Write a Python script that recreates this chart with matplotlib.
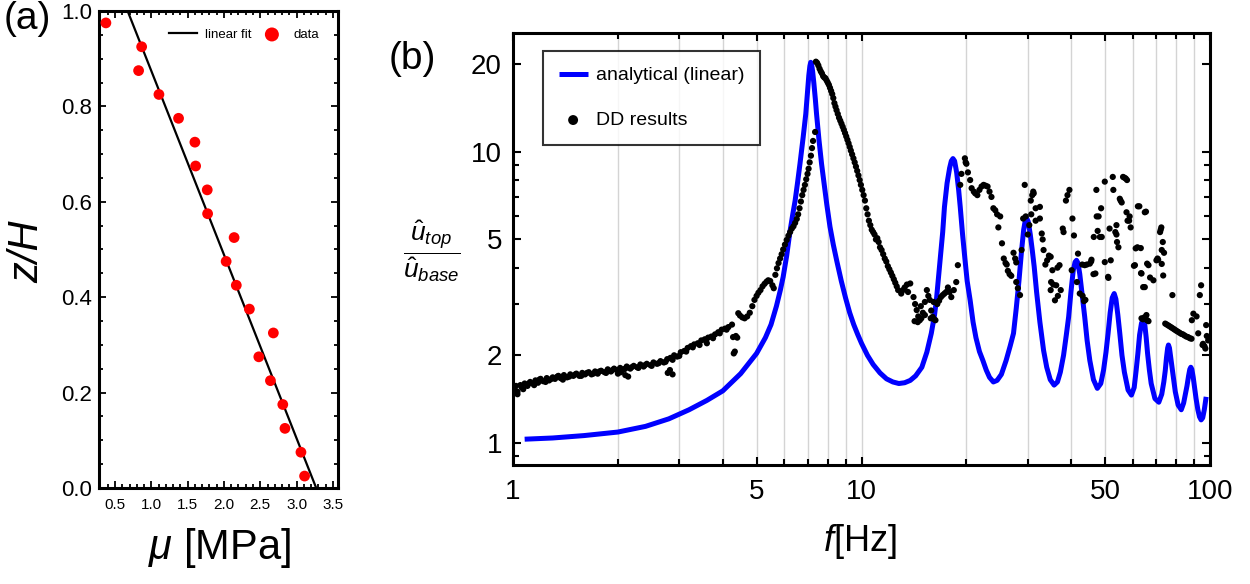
"""Two-panel figure: shear modulus profile (a) and transfer function (b)."""

import matplotlib

matplotlib.use("Agg")
import matplotlib.pyplot as plt
from matplotlib.ticker import FixedLocator, FixedFormatter, NullFormatter

plt.rcParams["font.family"] = ["Liberation Sans", "DejaVu Sans"]
plt.rcParams["mathtext.fontset"] = "custom"
plt.rcParams["mathtext.rm"] = "Liberation Sans"
plt.rcParams["mathtext.it"] = "Liberation Sans:italic"

# ---- panel (a): mu vs z/H ----
mu_data = [0.375, 0.867, 0.825, 1.105, 1.375, 1.60, 1.61, 1.77, 1.775, 2.14,
           2.03, 2.17, 2.35, 2.68, 2.48, 2.64, 2.81, 2.84, 3.06, 3.11]
z_data = [0.975, 0.925, 0.875, 0.825, 0.775, 0.725, 0.675, 0.625, 0.575, 0.525,
          0.475, 0.425, 0.375, 0.325, 0.275, 0.225, 0.175, 0.125, 0.075, 0.025]
fit_mu = [0.674, 3.27]
fit_z = [1.0, 0.0]

# ---- panel (b): analytical transfer function (f, amplitude) ----
analytical = [
    (1.08, 1.03), (1.3, 1.04), (1.6, 1.06), (2.0, 1.09), (2.4, 1.14), (2.8, 1.21),
    (3.2, 1.30), (3.6, 1.40), (4.0, 1.51), (4.5, 1.73), (5.0, 2.03), (5.3, 2.3),
    (5.5, 2.55), (5.7, 2.95), (5.85, 3.35), (5.96, 3.72), (6.1, 4.4), (6.23, 5.3),
    (6.35, 6.1), (6.45, 6.8), (6.56, 7.9), (6.66, 9.1), (6.8, 11.2), (6.92, 13.5),
    (7.0, 16.0), (7.06, 18.3), (7.11, 19.7), (7.15, 20.3), (7.19, 20.0), (7.24, 18.9),
    (7.3, 17.2), (7.37, 15.2), (7.43, 13.5), (7.55, 11.0), (7.68, 9.1), (7.8, 7.9),
    (7.95, 6.6), (8.12, 5.53), (8.3, 4.8), (8.5, 4.2), (8.75, 3.6), (9.0, 3.15),
    (9.25, 2.8), (9.5, 2.55), (9.75, 2.36), (10.0, 2.2), (10.4, 2.0), (10.8, 1.86),
    (11.3, 1.74), (11.8, 1.66), (12.3, 1.62), (12.8, 1.60), (13.3, 1.61), (13.8, 1.64),
    (14.3, 1.70), (14.9, 1.82), (15.4, 2.05), (15.86, 2.38), (16.2, 2.75), (16.4, 3.09),
    (16.8, 4.2), (17.1, 5.3), (17.3, 6.47), (17.6, 7.8), (17.9, 8.8), (18.1, 9.3),
    (18.3, 9.48), (18.5, 9.3), (18.75, 8.5), (19.0, 7.4), (19.2, 6.47), (19.5, 5.2),
    (19.8, 4.3), (20.1, 3.6), (20.5, 3.09), (20.9, 2.6), (21.3, 2.3), (21.8, 2.06),
    (22.3, 1.92), (22.8, 1.78), (23.3, 1.68), (23.9, 1.62), (24.5, 1.64), (25.2, 1.72),
    (26.0, 1.92), (26.7, 2.15), (27.3, 2.38), (27.8, 2.9), (28.3, 3.6), (28.8, 4.59),
    (29.2, 5.4), (29.5, 5.8), (29.8, 5.9), (30.1, 5.75), (30.5, 5.2), (30.9, 4.6),
    (31.3, 4.03), (31.8, 3.3), (32.5, 2.6), (33.3, 2.08), (34.0, 1.82), (34.8, 1.65),
    (35.7, 1.58), (36.5, 1.62), (37.2, 1.75), (38.0, 2.0), (38.7, 2.35), (39.3, 2.71),
    (39.9, 3.3), (40.5, 3.9), (41.0, 4.18), (41.4, 4.24), (41.8, 4.15), (42.3, 3.8),
    (43.0, 3.2), (43.7, 2.71), (44.4, 2.25), (45.2, 1.92), (46.3, 1.65), (47.5, 1.54),
    (48.6, 1.6), (49.5, 1.78), (50.3, 2.05), (51.0, 2.38), (51.7, 2.8), (52.4, 3.15),
    (53.1, 3.26), (53.7, 3.12), (54.4, 2.75), (55.1, 2.38), (55.9, 2.0), (56.8, 1.75),
    (58.2, 1.52), (59.5, 1.46), (60.6, 1.55), (61.4, 1.78), (62.1, 2.03), (62.8, 2.35),
    (63.6, 2.58), (64.3, 2.64), (65.0, 2.55), (65.6, 2.3), (66.2, 2.03), (67.0, 1.78),
    (67.8, 1.6), (69.5, 1.42), (71.3, 1.38), (72.7, 1.47), (73.7, 1.62), (74.4, 1.77),
    (75.0, 1.96), (75.6, 2.12), (76.0, 2.17), (76.5, 2.12), (77.2, 1.95), (78.3, 1.72),
    (79.5, 1.5), (81.0, 1.35), (82.7, 1.30), (84.0, 1.37), (85.0, 1.47), (85.9, 1.57),
    (86.8, 1.70), (87.5, 1.79), (88.1, 1.82), (88.7, 1.79), (89.5, 1.68), (90.2, 1.57),
    (91.2, 1.42), (92.3, 1.30), (93.3, 1.23), (94.3, 1.20), (95.3, 1.22), (96.3, 1.30),
    (97.5, 1.44),
]

# ---- panel (b): DD results, split by frequency band ----
dd_low = [
    (1.00, 1.52), (1.01, 1.55), (1.03, 1.50), (1.05, 1.58), (1.06, 1.55), (1.08, 1.60),
    (1.10, 1.57), (1.12, 1.62), (1.14, 1.60), (1.16, 1.64), (1.18, 1.61), (1.20, 1.66),
    (1.22, 1.63), (1.25, 1.67), (1.27, 1.64), (1.30, 1.68), (1.32, 1.66), (1.35, 1.70),
    (1.37, 1.67), (1.40, 1.71), (1.43, 1.68), (1.46, 1.72), (1.49, 1.70), (1.52, 1.73),
    (1.55, 1.70), (1.58, 1.74), (1.61, 1.72), (1.65, 1.75), (1.68, 1.72), (1.72, 1.76),
    (1.75, 1.73), (1.79, 1.77), (1.83, 1.75), (1.87, 1.79), (1.91, 1.76), (1.95, 1.80),
    (1.99, 1.78), (2.03, 1.81), (2.08, 1.79), (2.12, 1.83), (2.17, 1.80), (2.22, 1.84),
    (2.27, 1.82), (2.32, 1.86), (2.37, 1.83), (2.42, 1.87), (2.48, 1.85), (2.53, 1.89),
    (2.59, 1.87), (2.65, 1.91), (2.71, 1.89), (2.77, 1.94), (2.83, 1.96), (2.90, 2.00),
    (2.96, 1.98), (3.03, 2.05), (3.10, 2.07), (3.17, 2.12), (3.24, 2.15), (3.31, 2.18),
    (3.39, 2.20), (3.47, 2.25), (3.55, 2.27), (3.63, 2.30), (3.71, 2.32), (3.80, 2.36),
    (3.88, 2.40), (3.97, 2.45), (4.06, 2.47), (4.15, 2.50), (4.25, 2.55),
    (1.02, 1.57), (1.07, 1.53), (1.11, 1.60), (1.15, 1.58), (1.19, 1.65), (1.24, 1.62),
    (1.29, 1.66), (1.34, 1.69), (1.39, 1.65), (1.45, 1.69), (1.51, 1.72), (1.57, 1.70),
    (1.63, 1.74), (1.70, 1.73), (1.77, 1.76), (1.85, 1.74), (1.93, 1.78), (2.01, 1.77),
    (2.10, 1.80), (2.19, 1.82), (2.29, 1.81), (2.39, 1.85), (2.50, 1.84), (2.62, 1.88),
    (2.74, 1.90), (2.87, 1.93), (3.00, 1.99), (3.14, 2.06), (3.28, 2.13), (3.43, 2.17),
    (3.58, 2.24), (3.75, 2.29), (3.92, 2.38), (4.10, 2.45),
    (1.03, 1.47), (2.00, 1.73), (2.04, 1.75), (2.10, 1.71), (2.14, 1.69), (2.78, 1.74),
    (2.82, 1.78), (2.87, 1.72), (3.60, 2.20), (4.30, 2.03), (4.33, 2.06), (4.28, 2.31),
    (4.36, 2.33), (4.40, 2.30),
]
dd_rise = [
    (4.43, 2.79), (4.48, 2.74), (4.55, 2.70), (4.62, 2.68), (4.70, 2.72), (4.78, 2.80),
    (4.86, 2.95), (4.93, 3.10), (5.00, 3.20), (5.06, 3.28), (5.13, 3.35), (5.20, 3.45),
    (5.27, 3.52), (5.34, 3.58), (5.40, 3.62), (5.47, 3.60), (5.55, 3.48), (5.60, 3.40),
    (5.66, 3.78), (5.72, 3.98), (5.78, 4.15), (5.84, 4.30), (5.90, 4.45), (5.96, 4.62),
    (6.03, 4.80), (6.10, 4.98), (6.17, 5.15), (6.24, 5.30), (6.31, 5.45), (6.38, 5.55),
    (6.45, 5.70), (6.52, 5.88), (6.58, 6.10), (6.64, 6.40), (6.70, 6.75), (6.76, 7.10),
    (6.82, 7.40), (6.88, 7.70), (6.94, 8.05), (7.00, 8.40), (7.05, 8.75), (7.10, 9.20),
    (7.16, 9.70), (7.21, 10.3), (7.26, 10.9), (7.36, 11.7),
]
dd_peak = [
    (7.40, 20.4), (7.46, 20.2), (7.52, 19.8), (7.58, 19.3), (7.64, 18.9), (7.70, 18.6),
    (7.76, 18.2), (7.82, 18.0), (7.88, 17.9), (7.94, 17.6), (8.00, 17.3), (8.06, 17.0),
    (8.12, 16.6), (8.18, 16.2), (8.24, 15.8), (8.30, 15.3), (8.36, 14.7), (8.42, 14.3),
    (8.48, 13.9), (8.55, 13.5), (8.62, 13.1), (8.69, 12.8), (8.76, 12.5), (8.83, 12.2),
    (8.90, 11.9), (8.97, 11.6), (9.04, 11.3), (9.11, 11.0), (9.18, 10.7), (9.25, 10.4),
    (9.32, 10.1), (9.40, 9.8), (9.48, 9.5), (9.56, 9.2), (9.64, 8.9), (9.72, 8.6),
    (9.80, 8.3), (9.88, 8.0), (9.96, 7.7), (10.05, 7.4), (10.14, 7.1), (10.23, 6.8),
    (10.32, 6.4), (10.41, 6.1), (10.50, 5.8), (10.60, 5.6), (10.70, 5.4), (10.80, 5.3),
    (10.90, 5.2), (11.00, 5.0), (11.10, 5.05), (11.20, 4.9), (11.30, 4.7), (11.42, 4.6),
    (11.54, 4.45), (11.66, 4.3), (11.78, 4.2), (11.90, 4.05), (12.02, 3.95), (12.14, 3.85),
    (12.26, 3.75), (12.38, 3.65), (12.50, 3.55), (12.62, 3.45), (12.74, 3.35),
]
dd_mid = [
    (13.0, 3.26), (13.15, 3.35), (13.3, 3.42), (13.5, 3.50), (13.8, 3.53), (13.6, 3.30),
    (14.1, 3.17), (14.25, 3.0), (14.4, 2.86), (14.55, 2.72), (14.7, 2.64), (14.85, 2.68),
    (15.0, 2.80), (15.2, 3.05), (15.4, 3.35), (15.55, 3.2), (15.7, 3.1), (15.85, 2.85),
    (16.0, 2.71), (16.15, 2.66), (16.3, 2.64), (16.5, 3.0), (16.7, 3.08), (16.9, 3.17),
    (17.1, 3.22), (17.3, 3.26), (17.5, 3.30), (17.7, 3.42), (17.9, 3.30), (18.1, 3.17),
    (18.4, 3.35), (18.7, 3.57), (18.9, 4.08), (14.2, 2.62), (14.5, 2.60), (14.8, 2.95),
    (15.8, 2.68), (16.1, 3.05), (15.2, 2.75),
    (19.2, 7.7), (19.35, 8.4), (19.8, 9.5), (19.9, 9.2), (20.0, 9.1), (20.2, 8.5),
    (20.5, 8.0), (20.7, 7.5), (21.0, 7.3), (21.2, 7.2), (21.5, 7.1), (21.8, 7.4),
    (22.1, 7.6), (22.4, 7.7), (22.7, 7.65), (23.0, 7.6), (23.3, 7.3), (23.6, 7.0),
    (23.9, 6.4), (24.2, 6.3), (24.5, 6.1), (25.0, 6.0), (24.7, 5.5), (25.3, 4.85),
    (25.6, 4.3), (25.9, 4.15), (26.1, 4.1), (26.3, 3.9), (26.6, 3.8), (26.9, 3.75),
    (27.3, 4.5), (27.6, 4.3), (27.8, 4.17), (28.1, 3.4), (28.5, 3.22), (27.8, 3.57),
]
dd_high = [
    (28.8, 4.6), (29.1, 5.9), (29.4, 7.7), (29.6, 6.0), (30.0, 5.2), (30.3, 5.6),
    (30.6, 6.8), (30.7, 6.1), (30.9, 7.1), (31.1, 7.3), (31.2, 7.2), (31.6, 6.4),
    (31.6, 5.8), (32.5, 6.47), (32.5, 5.9), (32.9, 5.24), (33.1, 5.0), (33.3, 4.6),
    (33.7, 4.1), (34.1, 4.24), (34.5, 4.4), (34.9, 4.36), (35.3, 3.92), (35.0, 3.57),
    (34.9, 3.35), (35.5, 3.5), (36.2, 3.48), (37.3, 3.35), (35.9, 3.09), (36.6, 3.2),
    (36.5, 4.0), (37.0, 4.08), (37.8, 5.45), (38.0, 5.3), (38.6, 6.8), (39.0, 7.1),
    (39.5, 7.4), (40.3, 5.9), (40.7, 5.16), (40.1, 3.92), (41.5, 3.57), (41.8, 4.47),
    (42.3, 3.26), (43.1, 3.2), (43.5, 3.07), (43.9, 3.1), (43.0, 4.1), (43.7, 4.08),
    (44.3, 4.1), (45.2, 4.13), (45.6, 4.2), (45.7, 4.26), (46.3, 3.8), (46.9, 3.82),
    (46.4, 5.1), (47.2, 7.4), (47.3, 6.0), (47.6, 5.35), (47.9, 6.0), (48.7, 6.4),
    (48.3, 5.1), (48.9, 5.1), (49.9, 7.9), (49.9, 4.18), (51.0, 3.72), (51.1, 3.69),
    (51.5, 5.45), (51.9, 4.24), (52.6, 8.2), (52.8, 7.4), (53.5, 5.3), (53.9, 5.6),
    (53.9, 5.2), (54.1, 4.9), (54.6, 4.7), (55.1, 6.9), (55.4, 6.8), (55.8, 6.7),
    (56.3, 8.2), (56.8, 8.15), (57.3, 8.1), (57.8, 8.0), (57.6, 6.2), (58.0, 5.8),
    (58.6, 5.8), (58.8, 6.0), (59.2, 5.5), (60.5, 4.06), (60.9, 4.08), (61.2, 4.66),
    (61.9, 4.7), (62.1, 6.5), (62.7, 6.5), (63.3, 4.67), (63.4, 3.83), (63.6, 3.82),
    (64.3, 3.43), (65.0, 3.43), (65.0, 6.2), (65.5, 6.23), (66.0, 4.13), (66.6, 4.08),
    (67.3, 3.7), (68.8, 3.62), (70.2, 4.24), (70.7, 4.3), (71.0, 4.26), (71.9, 5.3),
    (72.5, 5.5), (72.2, 5.4), (72.7, 4.12), (73.2, 4.9), (72.7, 4.6), (73.4, 3.76),
    (73.8, 4.5), (78.0, 3.22),
    (63.6, 2.68), (64.2, 2.66), (64.8, 2.70), (65.4, 2.66), (66.0, 2.64), (66.6, 2.62),
    (65.7, 2.75),
    (74.4, 2.57), (75.2, 2.55), (76.0, 2.53), (76.8, 2.51), (77.6, 2.49), (78.4, 2.47),
    (79.2, 2.45), (80.0, 2.43), (80.9, 2.41), (81.8, 2.39), (82.7, 2.37), (83.6, 2.36),
    (84.5, 2.34), (85.5, 2.32), (86.5, 2.31), (87.5, 2.29), (88.5, 2.28),
    (88.7, 2.64), (89.6, 2.78), (91.5, 2.72), (92.5, 2.38), (93.5, 3.22), (94.3, 3.48),
    (95.5, 2.19), (96.4, 2.15), (95.2, 2.17), (97.0, 2.11), (97.5, 2.54), (97.9, 2.33),
    (98.8, 2.25), (99.5, 2.30),
]

x_ticks_b = [1, 5, 10, 50, 100]
x_minor_b = [2, 3, 4, 6, 7, 8, 9, 20, 30, 40, 60, 70, 80, 90]
y_ticks_b = [1, 2, 5, 10, 20]
y_minor_b = [0.9, 3, 4, 6, 7, 8, 9]

fig = plt.figure(figsize=(12.5, 5.84), dpi=100)

# ---------------- panel (a) ----------------
ax_a = fig.add_axes([0.0792, 0.1644, 0.1912, 0.8168])
ax_a.plot(fit_mu, fit_z, color="black", lw=1.6, label="linear fit", zorder=2)
ax_a.scatter(mu_data, z_data, s=60, color="#ff0000", edgecolors="none",
             label="data", zorder=3)
ax_a.set_xlim(0.28, 3.57)
ax_a.set_ylim(0.0, 1.0)
ax_a.xaxis.set_major_locator(FixedLocator([0.5, 1.0, 1.5, 2.0, 2.5, 3.0, 3.5]))
ax_a.xaxis.set_minor_locator(FixedLocator([i / 10 for i in range(3, 36)]))
ax_a.yaxis.set_major_locator(FixedLocator([0.0, 0.2, 0.4, 0.6, 0.8, 1.0]))
ax_a.yaxis.set_minor_locator(FixedLocator([i / 20 for i in range(0, 21)]))
ax_a.xaxis.set_major_formatter(FixedFormatter(["0.5", "1.0", "1.5", "2.0", "2.5", "3.0", "3.5"]))
ax_a.yaxis.set_major_formatter(FixedFormatter(["0.0", "0.2", "0.4", "0.6", "0.8", "1.0"]))
ax_a.tick_params(which="both", direction="in", top=True, right=True, width=1.3)
ax_a.tick_params(which="major", length=5)
ax_a.tick_params(which="minor", length=3)
ax_a.tick_params(axis="x", labelsize=11, pad=7)
ax_a.tick_params(axis="y", labelsize=16, pad=5)
for sp in ax_a.spines.values():
    sp.set_linewidth(2.2)
ax_a.legend(loc="upper left", bbox_to_anchor=(0.25, 0.985), ncol=2, frameon=False,
            fontsize=9.5, handlelength=2.1, handletextpad=0.6, columnspacing=0.5,
            borderpad=0.3, markerscale=1.3)

fig.text(0.003, 0.999, "(a)", fontsize=28, ha="left", va="top")
fig.text(0.0216, 0.5685, "z/H", fontsize=30, style="italic", rotation=90,
         ha="center", va="center")
fig.text(0.176, 0.0616, r"$\mu$ [MPa]", fontsize=30, ha="center", va="center")

# ---------------- panel (b) ----------------
ax_b = fig.add_axes([0.4104, 0.2038, 0.5576, 0.7397])
ax_b.set_xscale("log")
ax_b.set_yscale("log")
for xv in x_minor_b + [10, 5, 50]:
    ax_b.axvline(xv, color="#d4d4d4", lw=1.0, zorder=0)

an_f = [p[0] for p in analytical]
an_a = [p[1] for p in analytical]
ax_b.plot(an_f, an_a, color="#0000ff", lw=3.6, label="analytical (linear)",
          zorder=2, solid_joinstyle="round", solid_capstyle="butt")

dd_all = dd_low + dd_rise + dd_peak + dd_mid + dd_high
ax_b.scatter([p[0] for p in dd_all], [p[1] for p in dd_all], s=20, color="black",
             edgecolors="none", label="DD results", zorder=3)

ax_b.set_xlim(1, 100)
ax_b.set_ylim(0.84, 25.6)
ax_b.xaxis.set_major_locator(FixedLocator(x_ticks_b))
ax_b.xaxis.set_major_formatter(FixedFormatter([str(v) for v in x_ticks_b]))
ax_b.xaxis.set_minor_locator(FixedLocator(x_minor_b))
ax_b.xaxis.set_minor_formatter(NullFormatter())
ax_b.yaxis.set_major_locator(FixedLocator(y_ticks_b))
ax_b.yaxis.set_major_formatter(FixedFormatter([str(v) for v in y_ticks_b]))
ax_b.yaxis.set_minor_locator(FixedLocator(y_minor_b))
ax_b.yaxis.set_minor_formatter(NullFormatter())
ax_b.tick_params(which="both", direction="in", top=True, right=True, width=1.5)
ax_b.tick_params(which="major", length=6)
ax_b.tick_params(which="minor", length=4)
ax_b.tick_params(axis="x", labelsize=20, pad=10)
ax_b.tick_params(axis="y", labelsize=20, pad=8)
for sp in ax_b.spines.values():
    sp.set_linewidth(2.2)

leg = ax_b.legend(loc="upper left", bbox_to_anchor=(0.043, 0.958), borderaxespad=0,
                  fontsize=14, frameon=True, fancybox=False, edgecolor="black",
                  borderpad=0.8, labelspacing=1.4, handlelength=1.5,
                  handletextpad=0.45, markerscale=1.6)
leg.get_frame().set_linewidth(1.5)

fig.text(0.311, 0.93, "(b)", fontsize=28, ha="left", va="top")
fig.text(0.3456, 0.570, r"$\dfrac{\hat{u}_{top}}{\hat{u}_{base}}$", fontsize=19,
         ha="center", va="center")
fig.text(0.688, 0.072, r"$f$[Hz]", fontsize=26, ha="center", va="center")

fig.savefig("out.png", dpi=100)
plt.close(fig)
